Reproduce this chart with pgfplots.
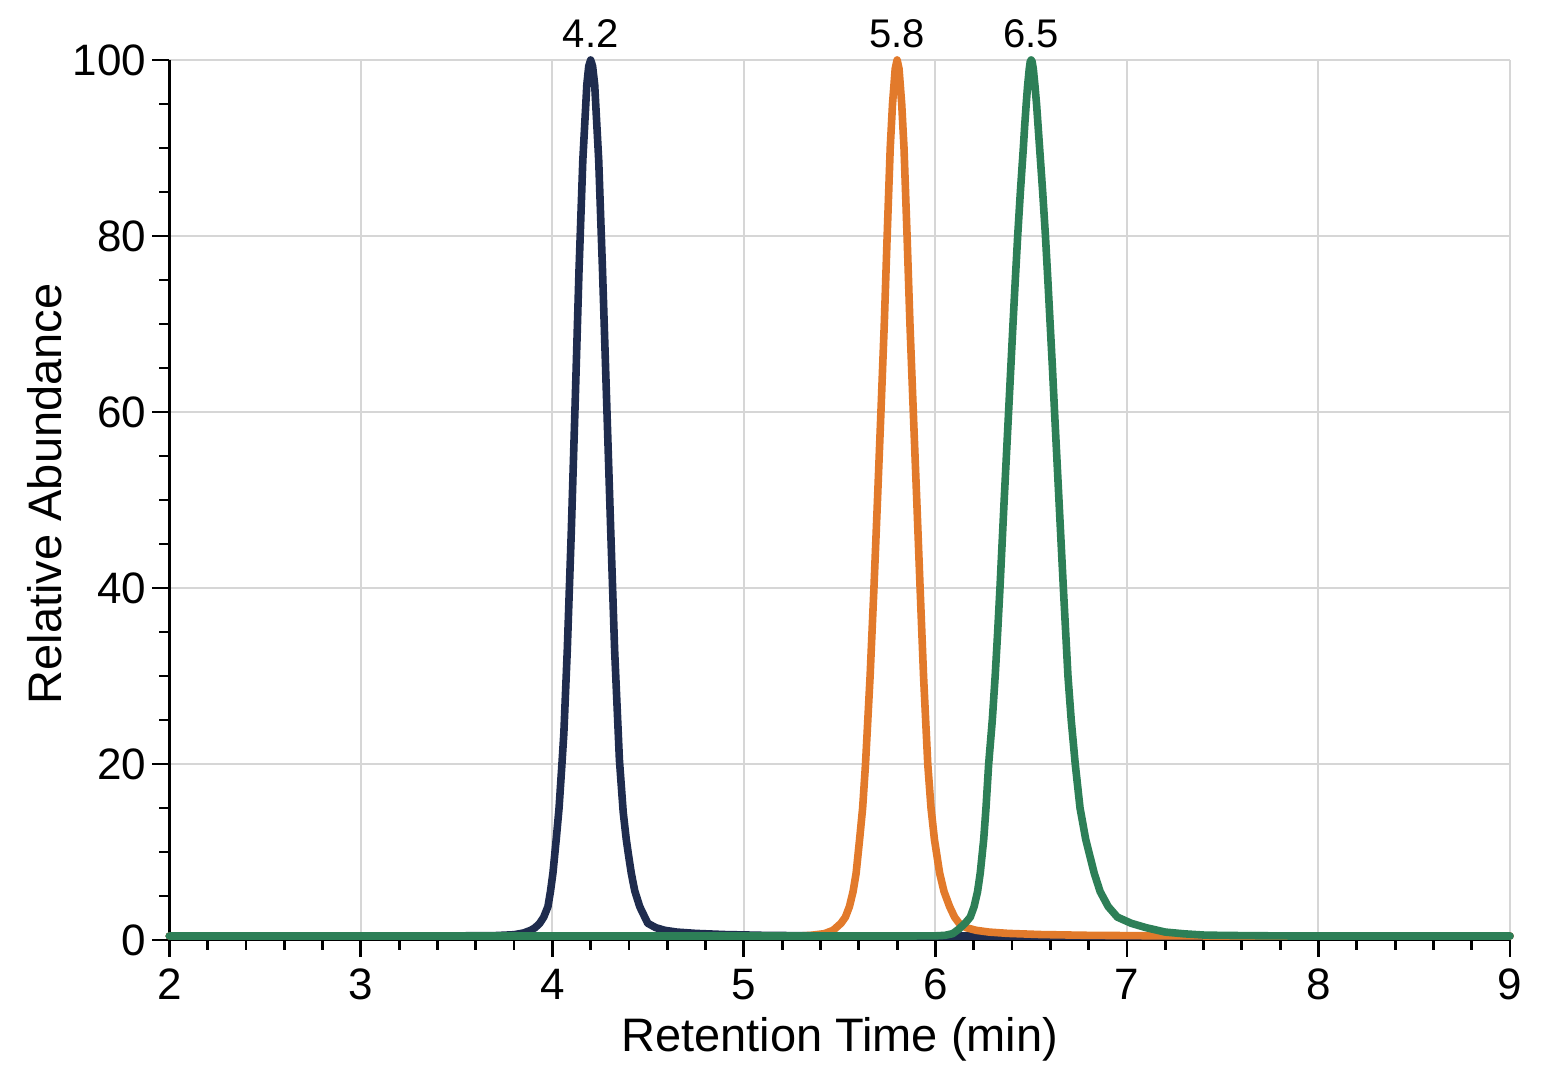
\documentclass[border=0pt]{standalone}
\usepackage{fontspec}
\setmainfont{Liberation Sans}
\usepackage{pgfplots}
\pgfplotsset{compat=1.18}

\definecolor{peakNavy}{HTML}{1F2C4E}
\definecolor{peakOrange}{HTML}{E27A2B}
\definecolor{peakGreen}{HTML}{2D7F57}
\definecolor{gridgray}{HTML}{D6D6D6}

\begin{document}
\begin{tikzpicture}
\useasboundingbox (-84.65pt,-70pt) rectangle (690.85pt,470pt);
\begin{axis}[
  at={(0pt,0pt)}, anchor=south west,
  scale only axis, width=670.35pt, height=440pt,
  xmin=2, xmax=9, ymin=0, ymax=100,
  axis lines*=left,
  clip=false,
  xtick={2,3,...,9}, ytick={0,20,...,100},
  minor x tick num=4, minor y tick num=3,
  tick align=outside,
  major tick length=8.5pt, minor tick length=5pt,
  tick style={black, line width=1.4pt},
  axis line style={black, line width=1.5pt},
  grid=major,
  major grid style={gridgray, line width=1pt},
  /pgf/number format/assume math mode=true,
  tick label style={font=\fontsize{22}{26}\selectfont},
  xticklabel style={yshift=-2.5pt},
  yticklabel style={xshift=0.5pt},
  xlabel={Retention Time (min)},
  ylabel={Relative Abundance},
  every axis x label/.style={at={(axis description cs:0.5,-0.0875)}, anchor=north, inner sep=0pt, font=\fontsize{23.5}{28}\selectfont},
  every axis y label/.style={at={(axis description cs:-0.080,0.507)}, rotate=90, anchor=south, inner sep=0pt, font=\fontsize{23.5}{28}\selectfont},
  every axis plot/.append style={line width=3.8pt, line join=round, line cap=round, mark=none},
]

% Peak 1 (4.2 min)
\addplot[peakNavy] coordinates {
(2.0,0.45) (3.0,0.45) (3.5,0.47) (3.7,0.5) (3.8,0.6) (3.85,0.8) (3.887,1.1)
(3.91,1.4) (3.934,1.9) (3.955,2.6) (3.977,3.8) (3.99,5.5) (4.003,7.6)
(4.02,11.4) (4.035,15) (4.05,20) (4.06,23.5) (4.078,33) (4.099,46.5)
(4.119,61) (4.139,76) (4.159,88.6) (4.18,97.2) (4.19,99.3) (4.2,100)
(4.21,99.3) (4.221,97.2) (4.242,88.6) (4.262,76) (4.283,61.5) (4.304,47)
(4.325,33) (4.35,20.5) (4.37,14.5) (4.386,11.4) (4.40,9.3) (4.412,7.6)
(4.43,5.6) (4.456,3.8) (4.498,1.9) (4.54,1.4) (4.587,1.1) (4.65,0.9)
(4.75,0.75) (4.9,0.62) (5.1,0.53) (5.4,0.47) (6.0,0.45) (9.0,0.45)
};

% Peak 2 (5.8 min)
\addplot[peakOrange] coordinates {
(2.0,0.45) (5.2,0.45) (5.3,0.47) (5.35,0.53) (5.42,0.72) (5.466,1.1)
(5.507,1.9) (5.53,2.6) (5.551,3.8) (5.57,5.5) (5.586,7.6) (5.604,11.4)
(5.62,15) (5.635,20) (5.659,30) (5.679,40) (5.6975,50) (5.7155,60)
(5.733,70) (5.748,80) (5.764,90) (5.776,95) (5.79,99) (5.8,100)
(5.81,99) (5.824,95) (5.836,90) (5.852,80) (5.867,70) (5.8845,60)
(5.9025,50) (5.92,40) (5.938,30) (5.96,20) (5.977,15) (5.995,11.4)
(6.022,7.6) (6.045,5.5) (6.074,3.8) (6.1,2.6) (6.124,1.9) (6.16,1.4)
(6.213,1.1) (6.28,0.9) (6.38,0.75) (6.55,0.62) (6.8,0.53) (7.2,0.47)
(7.6,0.45) (9.0,0.45)
};

% Peak 3 (6.5 min)
\addplot[peakGreen] coordinates {
(2.0,0.45) (5.8,0.45) (6.0,0.47) (6.05,0.53) (6.09,0.72) (6.12,1.2)
(6.155,1.9) (6.182,2.6) (6.202,3.8) (6.22,5.5) (6.234,7.6) (6.252,11.4)
(6.264,15) (6.278,20) (6.297,25) (6.312,30) (6.325,35) (6.337,40)
(6.348,45) (6.359,50) (6.3705,55) (6.382,60) (6.3935,65) (6.405,70)
(6.417,75) (6.4295,80) (6.4435,85) (6.459,90) (6.466,92.5) (6.474,95)
(6.481,97) (6.49,99) (6.495,99.8) (6.5,100) (6.505,99.8) (6.511,99)
(6.52,97) (6.528,95) (6.536,92.5) (6.544,90) (6.56,85) (6.5745,80)
(6.587,75) (6.599,70) (6.611,65) (6.622,60) (6.6335,55) (6.645,50)
(6.6565,45) (6.668,40) (6.68,35) (6.692,30) (6.709,25) (6.73,20)
(6.755,15) (6.785,11.4) (6.829,7.6) (6.86,5.5) (6.902,3.8) (6.95,2.6)
(7.022,1.9) (7.1,1.4) (7.2,0.9) (7.3,0.7) (7.41,0.55) (7.6,0.5)
(7.9,0.45) (9.0,0.45)
};

% Retention-time labels above the peak apexes
\node[anchor=south, inner sep=0pt, yshift=6pt, font=\fontsize{20}{24}\selectfont] at (axis cs:4.2,100) {4.2};
\node[anchor=south, inner sep=0pt, yshift=6pt, font=\fontsize{20}{24}\selectfont] at (axis cs:5.8,100) {5.8};
\node[anchor=south, inner sep=0pt, yshift=6pt, font=\fontsize{20}{24}\selectfont] at (axis cs:6.5,100) {6.5};
\end{axis}
\end{tikzpicture}
\end{document}
